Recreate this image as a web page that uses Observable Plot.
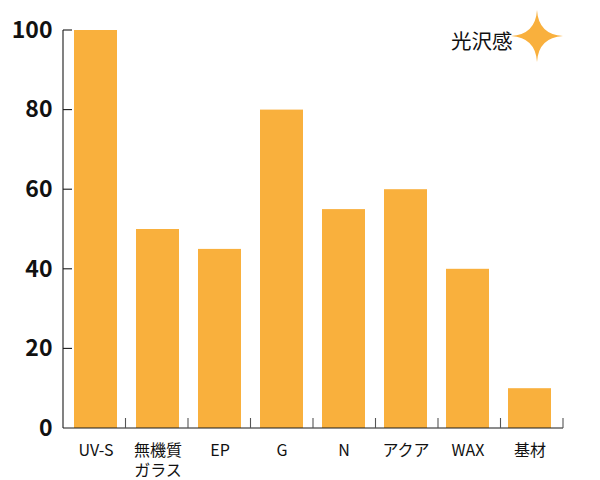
<!DOCTYPE html>
<html>
<head>
<meta charset="utf-8">
<script src="https://cdn.jsdelivr.net/npm/d3@7"></script>
<script src="https://cdn.jsdelivr.net/npm/@observablehq/plot@0.6"></script>
<style>
  html, body { margin: 0; padding: 0; background: #fff; }
</style>
</head>
<body>
<div id="chart"></div>
<script>
// ---- data ----
const categories = ["UV-S", "無機質ガラス", "EP", "G", "N", "アクア", "WAX", "基材"];
const tickLabels = ["UV-S", "無機質\nガラス", "EP", "G", "N", "アクア", "WAX", "基材"];
const values = [100, 50, 45, 80, 55, 60, 40, 10];
const yTicks = [0, 20, 40, 60, 80, 100];
const legendLabel = "光沢感";

// ---- style ----
const barColor = "#F9B03D";
const font = "'Noto Sans CJK JP', 'Noto Sans', sans-serif";

const data = categories.map((c, i) => ({category: c, value: values[i]}));

// axis lines + inward ticks, drawn through the scales
function axesMark(index, scales, values, dims) {
  const {x, y} = scales;
  const g = d3.create("svg:g").attr("stroke", "#1a1a1a").attr("stroke-width", 1.1).attr("fill", "none");
  const left = dims.marginLeft, right = dims.width - dims.marginRight;
  const y0 = y(0);
  g.append("line").attr("x1", left).attr("x2", left).attr("y1", y(d3.max(yTicks))).attr("y2", y0);
  g.append("line").attr("x1", left).attr("x2", right).attr("y1", y0).attr("y2", y0);
  for (const t of yTicks) {
    if (t === 0) continue;
    g.append("line").attr("x1", left).attr("x2", left + 9).attr("y1", y(t)).attr("y2", y(t));
  }
  const step = (right - left) / categories.length;
  categories.forEach((c, i) => {
    const bx = left + step * (i + 1);
    g.append("line").attr("x1", bx).attr("x2", bx).attr("y1", y0).attr("y2", y0 - 10).attr("stroke", "#555");
  });
  return g.node();
}

function starMark(index, scales, values, dims) {
  const cx = dims.width - dims.marginRight - 26;
  const cy = dims.marginTop + 6;
  const r = 26, k = 1.5;
  const path = `M0,${-r} Q${k},${-k} ${r},0 Q${k},${k} 0,${r} Q${-k},${k} ${-r},0 Q${-k},${-k} 0,${-r} Z`;
  return d3.create("svg:path")
    .attr("d", path)
    .attr("transform", `translate(${cx},${cy})`)
    .attr("fill", barColor)
    .node();
}

const chart = Plot.plot({
  width: 600,
  height: 480,
  marginLeft: 63,
  marginRight: 37,
  marginTop: 30,
  marginBottom: 52,
  style: {fontFamily: font, background: "#fff", color: "#111", overflow: "visible"},
  x: {domain: categories, paddingInner: 0.3, paddingOuter: 0.15},
  y: {domain: [0, 100], ticks: yTicks},
  marks: [
    Plot.barY(data, {x: "category", y: "value", fill: barColor}),
    Plot.axisY({ticks: yTicks, tickSize: 0, tickPadding: 11, fontSize: 23, fontWeight: "bold", label: null, fill: "#111"}),
    Plot.axisX({tickSize: 0, tickPadding: 13, fontSize: 16, lineHeight: 1.25, label: null, fill: "#111",
      tickFormat: d => tickLabels[categories.indexOf(d)]}),
    axesMark,
    Plot.text([legendLabel], {frameAnchor: "top-right", dx: -51, dy: 4, textAnchor: "end", fontSize: 20.5, fill: "#111"}),
    starMark
  ]
});

document.getElementById("chart").append(chart);
</script>
</body>
</html>
